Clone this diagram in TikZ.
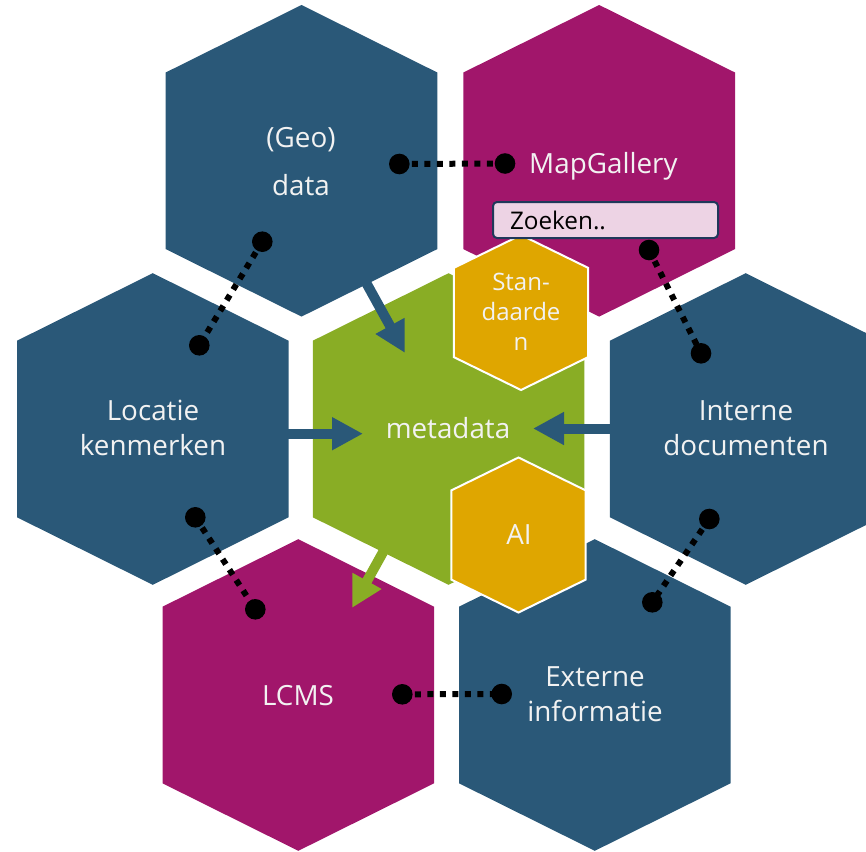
\documentclass[tikz,border=0pt]{standalone}
\usepackage{fontspec}
\setmainfont{Open Sans}
\usetikzlibrary{arrows.meta}
\definecolor{hblue}{RGB}{42,88,120}
\definecolor{hmag}{RGB}{161,22,107}
\definecolor{hgreen}{RGB}{137,173,37}
\definecolor{horange}{RGB}{223,166,0}
\definecolor{zfill}{RGB}{237,211,228}
\definecolor{zline}{RGB}{31,56,90}
\definecolor{txtc}{RGB}{242,242,242}
\newcommand\hexbig[3]{\fill[#3] (#1,#2) +(0,-155.8) -- +(135.8,-88.3) -- +(135.8,88.3) -- +(0,155.8) -- +(-135.8,88.3) -- +(-135.8,-88.3) -- cycle;}
\newcommand\hexsmall[2]{\filldraw[fill=horange, draw=white, line width=2pt] (#1,#2) +(0,-77.5) -- +(67.2,-44.6) -- +(67.2,44.6) -- +(0,77.5) -- +(-67.2,44.6) -- +(-67.2,-44.6) -- cycle;}
\tikzset{
  lbl/.style={text=txtc, align=center, inner sep=0pt, font=\fontsize{27.8}{35}\selectfont},
  slbl/.style={text=txtc, align=center, inner sep=0pt, font=\fontsize{24}{30}\selectfont},
  bluearrow/.style={draw=hblue, line width=10pt, -{Triangle[length=31pt,width=31pt]}},
  greenarrow/.style={draw=hgreen, line width=10pt, -{Triangle[length=31pt,width=31pt]}},
  dotline/.style={draw=black, line width=6pt, dash pattern=on 6pt off 6.5pt},
  dotend/.style={fill=black},
  zoekbox/.style={draw=zline, fill=zfill, line width=2pt, rounded corners=4pt, text=black, align=left, inner xsep=17pt, inner ysep=0pt, minimum height=36pt, font=\fontsize{24.3}{28}\selectfont}
}
\begin{document}
\begin{tikzpicture}[x=1pt,y=-1pt]
\useasboundingbox (0,0) rectangle (866,851);
\clip (0,0) rectangle (866,851);
% big hexagons
\hexbig{301.5}{160.8}{hblue}
\hexbig{599.2}{160.8}{hmag}
\hexbig{152.8}{429}{hblue}
\hexbig{448.6}{429}{hgreen}
\hexbig{745.7}{429}{hblue}
\hexbig{298.3}{695}{hmag}
\hexbig{594.8}{695}{hblue}
% labels
\node[lbl] (geo) at (301,162) {(Geo)\\[13pt]data};
\node[lbl, anchor=base west] (mapg) at (529,173) {MapGallery};
\node[lbl] (loc) at (153,428) {Locatie\\kenmerken};
\node[lbl] (meta) at (448,428) {metadata};
\node[lbl] (intern) at (746,428) {Interne\\documenten};
\node[lbl] (lcms) at (298,696) {LCMS};
\node[lbl] (extern) at (595,694) {Externe\\informatie};
% arrows
\coordinate (a1s) at (358,268);
\coordinate (a1e) at (405,353);
\coordinate (a2s) at (280,433.7);
\coordinate (a2e) at (363,433.7);
\coordinate (a3s) at (616,428.5);
\coordinate (a3e) at (533,428.5);
\coordinate (a4s) at (392,536);
\coordinate (a4e) at (352,608);
\draw[bluearrow] (a1s) -- (a1e);
\draw[bluearrow] (a2s) -- (a2e);
\draw[bluearrow] (a3s) -- (a3e);
\draw[greenarrow] (a4s) -- (a4e);
% small hexagons
\hexsmall{521}{312.5}
\hexsmall{518.5}{535}
\node[slbl] (std) at (521,312) {Stan-\\daarde\\n};
\node[lbl] (ai) at (519,535) {AI};
% search box
\node[zoekbox, text width=191pt, anchor=north west] (zoek) at (492,201) {Zoeken..};
% dotted connectors
\coordinate (d1a) at (399.3,164);
\coordinate (d1b) at (505,163.5);
\coordinate (d2a) at (262.3,241.7);
\coordinate (d2b) at (199.3,345.3);
\coordinate (d3a) at (649,250);
\coordinate (d3b) at (701,353.3);
\coordinate (d4a) at (195.3,517.3);
\coordinate (d4b) at (255.3,609.3);
\coordinate (d5a) at (709.3,519);
\coordinate (d5b) at (652.3,602.3);
\coordinate (d6a) at (402.3,694.3);
\coordinate (d6b) at (501.7,694);
\foreach \p/\q in {d1a/d1b,d2a/d2b,d3a/d3b,d4a/d4b,d5a/d5b,d6a/d6b}{
  \draw[dotline] (\p) -- (\q);
  \fill[dotend] (\p) circle (10.3pt);
  \fill[dotend] (\q) circle (10.3pt);
}
\end{tikzpicture}
\end{document}
